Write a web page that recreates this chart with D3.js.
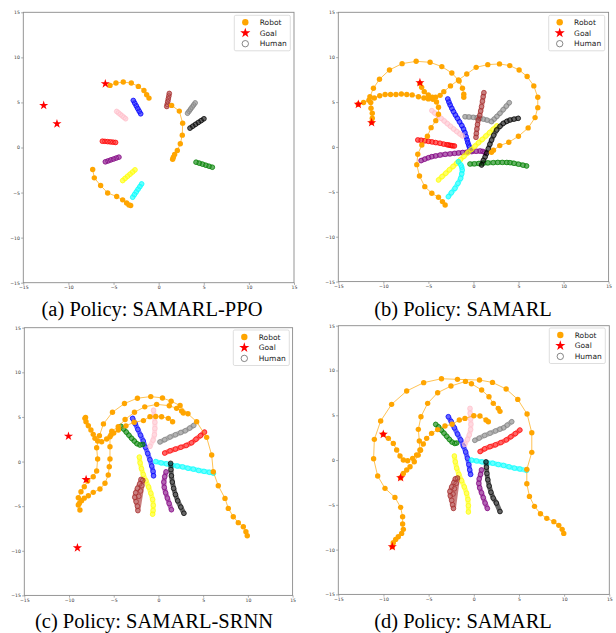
<!DOCTYPE html>
<html><head><meta charset="utf-8">
<script src="https://cdn.jsdelivr.net/npm/d3@7"></script>
<style>body{margin:0;background:#fff}svg{display:block}</style>
</head><body><svg id="c" width="616" height="633"></svg>
<script>
// ---------- shared ----------
const tickValues = [-15,-10,-5,0,5,10,15];
const humanColors = ["blue","pink","red","purple","yellow","cyan","green","black","gray","brown"];
const legendLabels = ["Robot","Goal","Human"];
const captions = ["(a) Policy: SAMARL-PPO","(b) Policy: SAMARL","(c) Policy: SAMARL-SRNN","(d) Policy: SAMARL"];

// ---------- panel (a) ----------
const robotsA = [
 [[-5.39,6.89],[-4.73,7.15],[-3.92,7.26],[-3.03,7.15],[-2.25,6.78],[-1.63,6.33],[-1.33,5.85],[-1.07,5.48]],
 [[1.44,4.67],[2.29,4.04],[2.66,2.70],[2.62,1.37],[2.40,0.41],[2.07,-0.33],[1.77,-0.78],[1.63,-1.07],[1.55,-1.30]],
 [[-7.31,-2.44],[-7.13,-3.37],[-6.43,-4.22],[-5.65,-5.04],[-4.65,-5.44],[-3.99,-5.81],[-3.55,-6.15],[-3.29,-6.37],[-3.10,-6.44]]
];
const goalsA = [[-12.74,4.67],[-11.27,2.63],[-5.91,7.07]];
const humansA = [
 [[-2.81,5.22],[-2.65,4.92],[-2.48,4.62],[-2.32,4.32],[-2.15,4.02],[-1.99,3.74]],
 [[-4.65,4.0],[-4.45,3.84],[-4.25,3.68],[-4.05,3.51],[-3.85,3.35],[-3.66,3.19]],
 [[-6.24,0.7],[-5.95,0.68],[-5.65,0.65],[-5.35,0.62],[-5.06,0.59],[-4.77,0.56]],
 [[-5.91,-1.59],[-5.61,-1.49],[-5.31,-1.38],[-5.0,-1.28],[-4.7,-1.17],[-4.4,-1.07]],
 [[-3.99,-3.67],[-3.72,-3.43],[-3.44,-3.19],[-3.17,-2.96],[-2.89,-2.72],[-2.62,-2.48]],
 [[-2.88,-5.52],[-2.68,-5.22],[-2.48,-4.93],[-2.28,-4.63],[-2.08,-4.34],[-1.88,-4.04]],
 [[4.14,-1.63],[4.5,-1.74],[4.86,-1.85],[5.23,-1.97],[5.59,-2.08],[5.95,-2.19]],
 [[3.47,2.15],[3.78,2.36],[4.09,2.57],[4.4,2.78],[4.71,2.98],[5.02,3.19]],
 [[3.2,3.8],[3.37,4.03],[3.54,4.26],[3.71,4.49],[3.88,4.72],[4.05,4.95]],
 [[1.18,6.0],[1.13,5.7],[1.07,5.4],[1.01,5.1],[0.95,4.8],[0.9,4.55]]
];

// ---------- panel (b) ----------
const robotsB = [
 [[-1.07,5.53],[-1.07,5.87],[-1.22,6.54],[-1.59,7.35],[-2.40,8.24],[-3.51,8.95],[-4.81,9.43],[-6.36,9.54],[-7.92,9.28],[-9.32,8.58],[-10.43,7.54],[-11.10,6.54],[-11.49,5.6],[-11.4,4.95],[-11.37,4.31],[-11.23,3.75],[-11.23,3.2],[-11.28,2.75]],
 [[-3.14,-6.46],[-3.44,-6.09],[-3.88,-5.61],[-4.62,-5.16],[-5.40,-4.42],[-5.99,-3.23],[-6.29,-1.97],[-6.18,-0.82],[-5.73,0.22],[-5.11,1.19],[-4.70,2.15],[-4.18,2.93],[-3.88,3.64],[-3.88,4.42],[-4.1,5.0],[-4.5,5.3],[-5.0,5.35],[-5.5,5.45],[-6.1,5.6],[-6.8,5.8],[-7.4,5.85],[-8.0,5.9],[-8.6,5.85],[-9.2,5.85],[-9.8,5.85],[-10.4,5.7],[-11.0,5.45],[-11.6,5.2],[-12.2,4.95],[-12.78,4.75]],
 [[2.0,-0.6],[2.22,-0.37],[2.92,0.15],[3.92,0.52],[4.99,1.19],[6.07,2.12],[6.84,3.27],[7.14,4.38],[7.14,5.53],[6.70,6.80],[5.96,7.84],[5.07,8.58],[4.03,9.06],[2.89,9.25],[1.59,9.17],[0.30,8.87],[-0.74,8.13],[-1.66,7.46],[-2.55,6.80],[-3.29,6.16],[-3.7,5.75],[-4.2,5.55],[-4.57,5.53],[-5.01,5.79],[-5.46,6.16],[-5.75,6.64],[-5.94,7.1]]
];
const goalsB = [[-12.78,4.75],[-11.30,2.71],[-5.94,7.16]];
const humansB = [
 [[-2.85,5.35],[-2.72,5.0],[-2.59,4.68],[-2.4,4.3],[-2.22,3.94],[-2.0,3.56],[-1.78,3.19],[-1.55,2.8],[-1.29,2.38],[-1.1,2.0],[-0.95,1.6],[-0.81,1.15],[-0.7,0.8],[-0.63,0.48],[-0.52,0.2],[-0.44,-0.04],[-0.3,-0.41]],
 [[-4.62,4.05],[-4.3,3.78],[-3.95,3.5],[-3.6,3.2],[-3.25,2.9],[-2.9,2.6],[-2.55,2.3],[-2.2,2.0],[-1.85,1.72],[-1.5,1.45],[-1.22,1.23]],
 [[-6.18,0.78],[-5.8,0.74],[-5.4,0.69],[-4.99,0.63],[-4.6,0.56],[-4.2,0.49],[-3.7,0.41],[-3.3,0.32],[-2.95,0.25],[-2.77,0.22],[-2.6,0.18],[-2.45,0.15],[-2.3,0.13],[-2.11,0.11]],
 [[-5.81,-1.52],[-5.4,-1.36],[-5.0,-1.2],[-4.62,-1.08],[-4.2,-1.0],[-3.7,-0.9],[-3.14,-0.82],[-2.6,-0.77],[-2.1,-0.71],[-1.66,-0.67],[-1.2,-0.62],[-0.7,-0.57],[-0.18,-0.52],[0.3,-0.48],[0.74,-0.45],[1.05,-0.5],[1.29,-0.63]],
 [[-3.88,-3.68],[-3.48,-3.30],[-3.07,-2.93],[-2.67,-2.55],[-2.26,-2.17],[-1.86,-1.80],[-1.45,-1.42],[-1.05,-1.04],[-0.64,-0.66],[-0.24,-0.29],[0.17,0.09],[0.57,0.47],[0.98,0.84],[1.38,1.22],[1.79,1.60],[2.19,1.97],[2.6,2.35]],
 [[-2.79,-5.54],[-2.45,-5.1],[-2.05,-4.61],[-1.72,-4.05],[-1.42,-3.5],[-1.3,-3.0],[-1.24,-2.57],[-1.3,-2.25],[-1.39,-2.01],[-1.68,-1.64]],
 [[-0.39,-1.9],[0.1,-1.88],[0.6,-1.84],[1.1,-1.8],[1.6,-1.77],[2.2,-1.75],[2.7,-1.72],[3.2,-1.72],[3.7,-1.73],[4.05,-1.75],[4.5,-1.82],[5.0,-1.92],[5.5,-2.03],[5.9,-2.12]],
 [[0.9,-2.01],[1.1,-1.5],[1.3,-1.1],[1.46,-0.71],[1.65,-0.2],[1.82,0.3],[2.01,0.77],[2.25,1.3],[2.57,1.89],[2.95,2.3],[3.31,2.63],[3.7,2.85],[4.05,3.0],[4.5,3.1],[4.97,3.19]],
 [[-0.94,3.37],[-0.5,3.34],[0.0,3.3],[0.4,3.25],[0.72,3.19],[1.1,3.1],[1.5,3.0],[2.01,2.82],[2.3,3.1],[2.6,3.4],[2.94,3.75],[3.3,4.15],[3.65,4.55],[3.98,4.93]],
 [[1.16,6.05],[1.08,5.6],[1.0,5.1],[0.9,4.49],[0.8,4.0],[0.7,3.5],[0.53,3.0],[0.45,2.5],[0.38,2.0],[0.32,1.5],[0.28,1.07]]
];

// ---------- panel (c) ----------
const robotsC = [
 [[9.93,-8.31],[9.78,-7.86],[9.49,-7.30],[8.93,-6.85],[8.37,-6.18],[7.81,-5.25],[7.44,-4.13],[6.69,-2.71],[6.13,-1.14],[5.95,0.73],[5.39,2.71],[4.27,4.46],[3.3,5.35],[2.42,6.28],[1.42,6.76],[0.45,7.13],[-0.86,7.28],[-2.35,7.10],[-3.80,6.50],[-5.14,5.53],[-6.15,4.22],[-6.6,2.9],[-6.91,1.55],[-6.80,0.28],[-6.91,-1.06],[-7.29,-1.70],[-7.92,-2.18],[-8.29,-2.82],[-8.66,-3.38],[-8.96,-4.05],[-8.96,-4.87],[-8.78,-5.43]],
 [[2.78,5.44],[2.59,5.66],[2.03,5.96],[1.21,6.26],[-0.2,6.41],[-1.53,6.13],[-2.68,5.53],[-3.73,4.71],[-4.5,3.9],[-5.22,3.4],[-5.42,2.78],[-5.42,1.66],[-5.42,0.28],[-5.50,-0.58],[-5.61,-1.51],[-5.98,-2.44],[-6.54,-3.08],[-7.29,-3.45],[-7.84,-3.83],[-8.3,-4.1],[-8.6,-4.4],[-8.85,-4.7]],
 [[1.58,4.46],[1.10,4.84],[0.35,5.02],[-0.3,5.05],[-0.95,5.03],[-1.68,4.59],[-2.72,4.41],[-3.63,4.0],[-4.49,3.53],[-5.0,3.2],[-5.31,2.97],[-5.79,2.52],[-6.35,2.22],[-6.80,2.30],[-7.10,2.60],[-7.29,3.05],[-7.55,3.53],[-7.84,4.02],[-8.10,4.46],[-8.22,4.84],[-8.15,4.95]]
];
const goalsC = [[-10.06,2.84],[-8.09,-2.02],[-9.06,-9.67]];
const humansC = [
 [[-2.89,4.84],[-2.6,4.25],[-2.3,3.6],[-2.0,2.95],[-1.7,2.3],[-1.45,1.6],[-1.2,0.9],[-0.95,0.2],[-0.75,-0.5],[-0.6,-1.1],[-0.55,-1.6]],
 [[-0.55,5.75],[-0.45,5.1],[-0.4,4.4],[-0.4,3.7],[-0.45,3.0],[-0.6,2.4],[-0.95,1.7]],
 [[0.7,0.95],[1.3,1.2],[1.9,1.4],[2.5,1.6],[3.1,1.8],[3.7,2.1],[4.2,2.5],[4.7,2.9],[5.15,3.3]],
 [[0.85,-1.15],[0.7,-1.7],[0.6,-2.3],[0.65,-2.9],[0.8,-3.5],[1.0,-4.1],[1.2,-4.7],[1.45,-5.4]],
 [[-2.14,0.5],[-2.05,-0.15],[-1.9,-0.8],[-1.7,-1.45],[-1.4,-2.15],[-1.1,-2.85],[-0.85,-3.55],[-0.65,-4.25],[-0.58,-4.9],[-0.6,-5.5],[-0.65,-5.9]],
 [[-0.3,0.0],[0.3,-0.15],[0.9,-0.25],[1.5,-0.4],[2.1,-0.5],[2.7,-0.6],[3.3,-0.75],[3.9,-0.85],[4.5,-1.0],[5.1,-1.1],[5.7,-1.2],[6.15,-1.3]],
 [[-4.19,3.95],[-3.9,3.65],[-3.6,3.3],[-3.3,2.95],[-3.0,2.6],[-2.7,2.3],[-2.4,2.0],[-2.07,1.85],[-1.75,1.92]],
 [[1.36,-0.2],[1.4,-0.9],[1.45,-1.6],[1.55,-2.3],[1.7,-3.0],[1.9,-3.7],[2.15,-4.4],[2.5,-5.1],[2.85,-5.8]],
 [[0.17,2.2],[0.7,2.45],[1.3,2.75],[1.9,3.0],[2.5,3.25],[3.0,3.45],[3.5,3.75],[3.95,4.05]],
 [[-1.95,-2.0],[-2.1,-2.5],[-2.35,-3.0],[-2.55,-3.5],[-2.65,-4.0],[-2.5,-4.5],[-2.35,-5.0],[-2.3,-5.5],[-1.75,-2.1],[-1.85,-2.7],[-2.0,-3.3],[-2.2,-3.9]]
];

// ---------- panel (d) ----------
const robotsD = [
 [[9.96,-8.19],[9.78,-7.74],[9.41,-7.29],[8.86,-6.88],[8.08,-6.51],[7.38,-5.99],[6.72,-5.17],[6.16,-4.06],[5.87,-2.64],[5.87,-1.04],[6.42,0.86],[6.42,3.05],[5.90,5.14],[4.87,6.77],[3.58,7.93],[2.07,8.67],[0.63,8.93],[-1.81,9.01],[-3.58,9.08],[-5.55,8.64],[-7.43,7.71],[-9.10,6.22],[-10.31,4.36],[-11.01,2.31],[-11.09,0.15],[-10.64,-1.78],[-9.83,-3.16],[-8.73,-4.17],[-8.10,-5.28],[-7.88,-6.33],[-7.88,-7.14],[-7.80,-7.74],[-7.99,-8.19],[-8.36,-8.56],[-8.65,-8.86],[-8.91,-9.23],[-9.02,-9.67]],
 [[2.90,5.44],[2.71,5.77],[2.16,6.33],[1.68,7.07],[0.87,7.82],[-0.26,8.52],[-0.92,8.78],[-2.53,8.26],[-4.0,7.52],[-5.11,6.33],[-5.85,4.84],[-6.14,3.43],[-6.03,2.12],[-5.96,1.12],[-6.15,0.55],[-6.59,-0.19],[-7.06,-0.74],[-7.43,-1.11],[-7.80,-1.49],[-8.10,-1.97]],
 [[1.61,4.28],[1.35,4.47],[0.68,4.91],[0.0,4.95],[-0.98,4.65],[-1.60,4.47],[-2.4,4.0],[-3.19,3.80],[-4.0,3.4],[-4.67,2.98],[-5.22,2.42],[-5.59,1.79],[-5.9,1.1],[-6.33,0.56],[-6.77,0.19],[-7.32,-0.07],[-7.80,0.0],[-8.17,0.45],[-8.54,1.12],[-8.91,1.86],[-9.46,2.42],[-10.02,2.87]]
];
const goalsD = [[-10.02,2.87],[-8.10,-1.97],[-9.02,-9.67]];
const humansD = [
 [[-2.82,4.84],[-2.5,4.3],[-2.15,3.6],[-1.8,2.9],[-1.45,2.25],[-1.15,1.55],[-0.9,0.9],[-0.7,0.2],[-0.55,-0.5],[-0.45,-1.1],[-0.35,-1.6]],
 [[-0.42,5.77],[-0.4,5.2],[-0.35,4.6],[-0.32,4.0],[-0.35,3.4],[-0.5,2.8],[-0.7,2.3],[-1.0,1.75]],
 [[0.7,0.95],[1.2,1.25],[1.8,1.5],[2.4,1.7],[3.0,1.95],[3.6,2.25],[4.1,2.6],[4.6,2.95],[5.1,3.35]],
 [[0.85,-1.1],[0.75,-1.6],[0.6,-2.1],[0.55,-2.6],[0.65,-3.1],[0.85,-3.65],[1.05,-4.2],[1.25,-4.8],[1.5,-5.4]],
 [[-2.15,0.45],[-2.05,-0.2],[-1.9,-0.9],[-1.65,-1.6],[-1.35,-2.3],[-1.05,-3.0],[-0.8,-3.7],[-0.65,-4.4],[-0.6,-5.1],[-0.6,-5.8]],
 [[-0.26,0.0],[0.3,-0.1],[0.9,-0.2],[1.5,-0.3],[2.1,-0.35],[2.7,-0.5],[3.3,-0.6],[3.9,-0.75],[4.5,-0.9],[5.1,-1.0],[5.85,-1.15]],
 [[-4.22,3.98],[-3.9,3.7],[-3.6,3.35],[-3.3,3.0],[-3.0,2.65],[-2.7,2.3],[-2.4,2.0],[-2.1,1.85],[-1.9,1.9]],
 [[1.35,-0.2],[1.4,-0.8],[1.45,-1.5],[1.55,-2.2],[1.7,-2.9],[1.9,-3.6],[2.15,-4.25],[2.5,-4.8],[2.9,-5.75]],
 [[0.11,2.2],[0.6,2.45],[1.2,2.75],[1.8,3.0],[2.4,3.25],[2.9,3.45],[3.3,3.6],[3.7,3.9],[4.2,4.28]],
 [[-2.05,-2.1],[-2.2,-2.5],[-2.45,-3.0],[-2.65,-3.5],[-2.6,-4.0],[-2.45,-4.5],[-2.35,-5.0],[-2.25,-5.4],[-1.8,-2.0],[-1.95,-2.6],[-2.15,-3.2],[-2.3,-3.8]]
];

// ---------- layout ----------
const boxes = [
 {x:23.3, y:12.3, w:270.7, h:270.4, leg:[234.3,22.3], cap:[152,316]},
 {x:338.3, y:12.3, w:270.3, h:269.3, leg:[548.7,22.3], cap:[463,316]},
 {x:24.3, y:327.7, w:268.3, h:267.7, leg:[233.3,337], cap:[154,627.5]},
 {x:338.3, y:325.7, w:271, h:268.7, leg:[549.3,335], cap:[463,627.5]}
];
const panelData = [
 [robotsA, goalsA, humansA],
 [robotsB, goalsB, humansB],
 [robotsC, goalsC, humansC],
 [robotsD, goalsD, humansD]
];

const svg = d3.select("#c");
const ORANGE = "#FFA500";
const star = d3.symbol().type(d3.symbolStar);

boxes.forEach((b, i) => {
  const [robots, goals, humans] = panelData[i];
  const x = d3.scaleLinear().domain([-15,15]).range([b.x, b.x + b.w]);
  const y = d3.scaleLinear().domain([-15,15]).range([b.y + b.h, b.y]);
  const g = svg.append("g");

  // axes
  const ax = g.append("g").attr("transform", `translate(0,${b.y + b.h})`)
    .call(d3.axisBottom(x).tickValues(tickValues).tickSize(2.2).tickPadding(1.2));
  const ay = g.append("g").attr("transform", `translate(${b.x},0)`)
    .call(d3.axisLeft(y).tickValues(tickValues).tickSize(2.2).tickPadding(1.2));
  [ax, ay].forEach(a => {
    a.select(".domain").remove();
    a.selectAll(".tick line").attr("stroke", "#777").attr("stroke-width", 0.6);
    a.selectAll(".tick text").attr("font-family", "DejaVu Sans").attr("font-size", 4.6).attr("fill", "#333");
  });

  const line = d3.line().x(d => x(d[0])).y(d => y(d[1]));

  // humans
  humans.forEach((pts, k) => {
    const col = humanColors[k];
    const hg = g.append("g");
    hg.append("path").attr("d", line(pts)).attr("fill", "none")
      .attr("stroke", col).attr("stroke-opacity", 0.6).attr("stroke-width", 4.9)
      .attr("stroke-linecap", "round").attr("stroke-linejoin", "round");
    hg.selectAll("circle").data(pts).join("circle")
      .attr("cx", d => x(d[0])).attr("cy", d => y(d[1])).attr("r", 2.35)
      .attr("fill", "none").attr("stroke", col).attr("stroke-width", 0.7);
  });

  // robots
  robots.forEach(pts => {
    g.append("path").attr("d", line(pts)).attr("fill", "none")
      .attr("stroke", ORANGE).attr("stroke-width", 0.8).attr("stroke-opacity", 0.85);
    g.append("g").selectAll("circle").data(pts).join("circle")
      .attr("cx", d => x(d[0])).attr("cy", d => y(d[1])).attr("r", 2.7)
      .attr("fill", ORANGE);
  });

  // goals
  g.append("g").selectAll("path").data(goals).join("path")
    .attr("d", star.size(26)())
    .attr("transform", d => `translate(${x(d[0])},${y(d[1])})`)
    .attr("fill", "#FF0000");

  // frame
  g.append("rect").attr("x", b.x).attr("y", b.y).attr("width", b.w).attr("height", b.h)
    .attr("fill", "none").attr("stroke", "#8a8a8a").attr("stroke-width", 0.9);

  // legend
  const [lx, ly] = b.leg;
  const lg = g.append("g");
  lg.append("rect").attr("x", lx).attr("y", ly - 7).attr("width", 56).attr("height", 35.5)
    .attr("rx", 1.5).attr("fill", "#fff").attr("fill-opacity", 0.85)
    .attr("stroke", "#d0d0d0").attr("stroke-width", 0.7);
  const rowY = k => ly + k * 10.7;
  lg.append("circle").attr("cx", lx + 11).attr("cy", rowY(0)).attr("r", 3.2).attr("fill", ORANGE);
  lg.append("path").attr("d", star.size(32)()).attr("transform", `translate(${lx + 11},${rowY(1)})`).attr("fill", "#FF0000");
  lg.append("circle").attr("cx", lx + 11).attr("cy", rowY(2)).attr("r", 3.2).attr("fill", "none").attr("stroke", "#555").attr("stroke-width", 0.7);
  legendLabels.forEach((t, k) => {
    lg.append("text").attr("x", lx + 25.4).attr("y", rowY(k) + 2.6).text(t)
      .attr("font-family", "DejaVu Sans").attr("font-size", 7.5).attr("fill", "#222");
  });

  // caption
  svg.append("text").attr("x", b.cap[0]).attr("y", b.cap[1]).attr("text-anchor", "middle")
    .attr("font-family", "Liberation Serif").attr("font-size", 20.5).attr("fill", "#000")
    .text(captions[i]);
});
</script></body></html>
